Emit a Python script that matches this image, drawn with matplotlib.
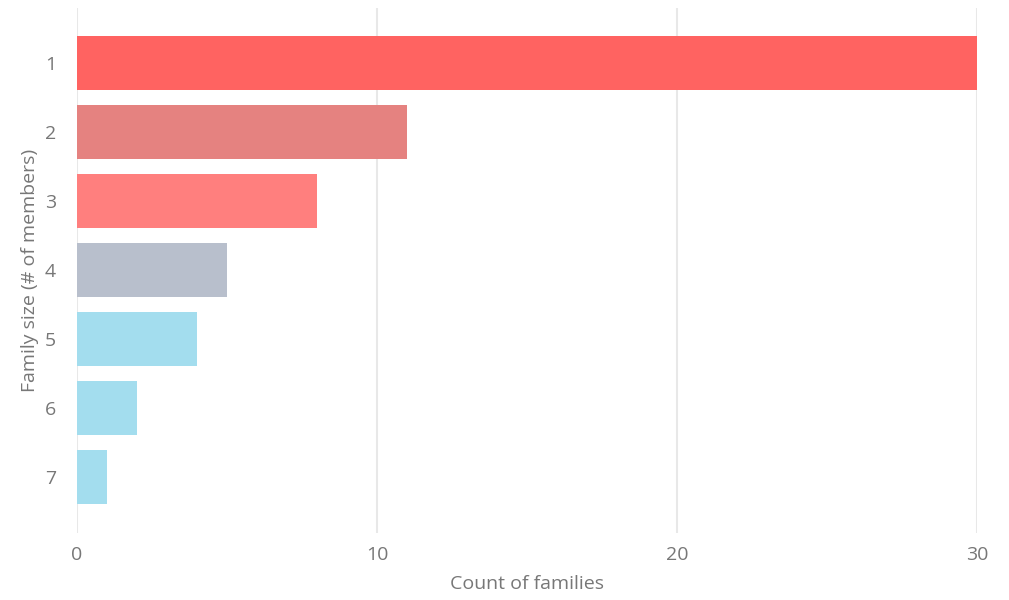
import matplotlib.pyplot as plt
import numpy as np

# family size categories and how many families have that size
sizes = ["1", "2", "3", "4", "5", "6", "7"]
counts = [30, 11, 8, 5, 4, 2, 1]
colors = ["#FF6361", "#E58280", "#FF7F7E", "#B8BFCC", "#A3DDEE", "#A3DDEE", "#A3DDEE"]

plt.rcParams['font.family'] = ['Open Sans', 'DejaVu Sans']

fig = plt.figure(figsize=(10.09, 6), dpi=100)
ax = fig.add_axes([77 / 1009, 67 / 600, 900 / 1009, 525 / 600])

y = np.arange(len(sizes))
ax.barh(y, counts, height=0.78, color=colors, zorder=2)

ax.set_xlim(0, 30)
ax.set_ylim(6.81, -0.8)
ax.set_xticks([0, 10, 20, 30])
ax.set_yticks(y, sizes)

ax.grid(axis="x", color="#e8e8e8", linewidth=1.5, zorder=0)
ax.grid(axis="y", visible=False)
for s in ax.spines.values():
    s.set_visible(False)

ax.tick_params(axis="both", length=0, labelsize=14, labelcolor="#777777")
ax.tick_params(axis="y", pad=15)
ax.tick_params(axis="x", pad=9)

ax.set_xlabel("Count of families", fontsize=14, color="#777777", labelpad=8)
ax.set_ylabel("Family size (# of members)", fontsize=14, color="#777777", labelpad=4)

fig.savefig("out.png", dpi=100)
